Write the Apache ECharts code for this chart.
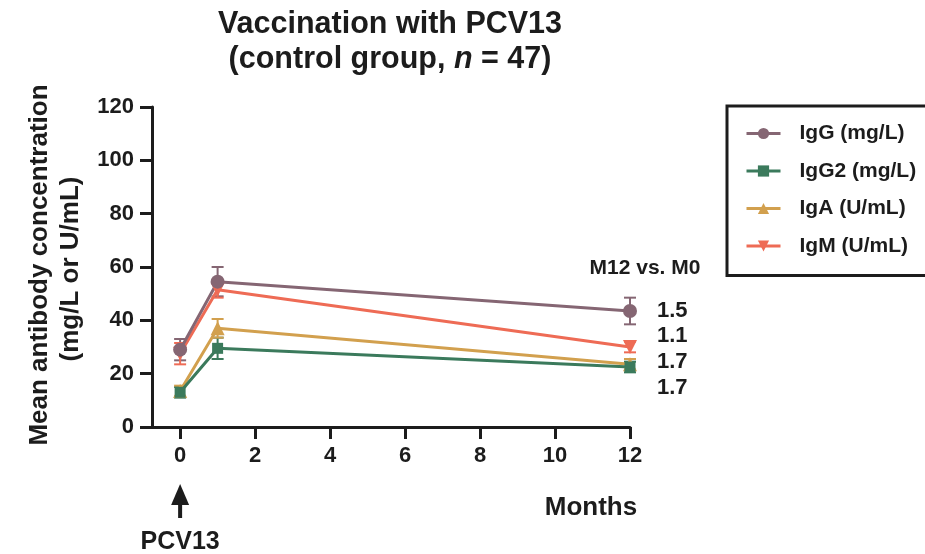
<!DOCTYPE html>
<html>
<head>
<meta charset="utf-8">
<script src="https://cdn.jsdelivr.net/npm/echarts@6/dist/echarts.min.js"></script>
<style>
  html, body { margin: 0; padding: 0; background: #fff; }
  #chart { width: 925px; height: 554px; }
</style>
</head>
<body>
<div id="chart"></div>
<script>
// Sampling time points (months after PCV13 dose)
var months = [0, 1, 12];

// Mean concentrations and error half-widths per antibody class
var seriesNames = ['IgG (mg/L)', 'IgG2 (mg/L)', 'IgA (U/mL)', 'IgM (U/mL)'];
var igG  = [29, 54.5, 43.5];
var igG2 = [13, 29.5, 22.5];
var igA  = [13.5, 37, 23.5];
var igM  = [27.5, 51.5, 30];
var igGErr  = [4, 5.5, 5];
var igG2Err = [2, 4, 2];
var igAErr  = [2, 3.5, 2];
var igMErr  = [4, 3, 2];

// Fold changes M12 vs. M0, listed top to bottom
var ratioLabels = ['1.5', '1.1', '1.7', '1.7'];

var xTicks = [0, 2, 4, 6, 8, 10, 12];

var colors = ['#856673', '#3b7a5c', '#d2a04e', '#ee6b55'];
var symbols = ['circle', 'rect', 'triangle', 'triangle'];
var rotations = [0, 0, 0, 180];
var FONT = '"Liberation Sans", Arial, sans-serif';
var INK = '#1c1c1c';

var allValues = [igG, igG2, igA, igM];
var allErrors = [igGErr, igG2Err, igAErr, igMErr];

var chart = echarts.init(document.getElementById('chart'), null, { renderer: 'canvas' });

function errorBarRenderer(color) {
  return function (params, api) {
    var x = api.value(0);
    var top = api.coord([x, api.value(2)]);
    var bot = api.coord([x, api.value(1)]);
    var cap = 6;
    var st = { stroke: color, lineWidth: 2 };
    return {
      type: 'group',
      children: [
        { type: 'line', shape: { x1: top[0], y1: top[1], x2: bot[0], y2: bot[1] }, style: st },
        { type: 'line', shape: { x1: top[0] - cap, y1: top[1], x2: top[0] + cap, y2: top[1] }, style: st },
        { type: 'line', shape: { x1: bot[0] - cap, y1: bot[1], x2: bot[0] + cap, y2: bot[1] }, style: st }
      ]
    };
  };
}

var series = [];
seriesNames.forEach(function (name, i) {
  var vals = allValues[i], errs = allErrors[i];
  series.push({
    name: name + ' err',
    type: 'custom',
    renderItem: errorBarRenderer(colors[i]),
    encode: { x: 0, y: [1, 2] },
    data: months.map(function (m, k) { return [m, vals[k] - errs[k], vals[k] + errs[k]]; }),
    z: 1,
    silent: true
  });
});
// Draw lines in reverse so IgG sits on top
for (var i = seriesNames.length - 1; i >= 0; i--) {
  series.push({
    name: seriesNames[i],
    type: 'line',
    data: months.map(function (m, k) { return [m, allValues[i][k]]; }),
    symbol: symbols[i],
    symbolRotate: rotations[i],
    symbolSize: i === 1 ? 11 : 14,
    showSymbol: true,
    lineStyle: { color: colors[i], width: 3 },
    itemStyle: { color: colors[i] },
    z: 2,
    animation: false
  });
}

var option = {
  animation: false,
  backgroundColor: '#ffffff',
  grid: { left: 152, right: 295, top: 107, bottom: 127, containLabel: false },
  xAxis: {
    type: 'value',
    min: -0.75,
    max: 12,
    axisLine: { show: true, onZero: false, lineStyle: { color: INK, width: 3 } },
    axisTick: { show: true, length: 12, lineStyle: { color: INK, width: 3 }, customValues: xTicks },
    axisLabel: { show: true, customValues: xTicks, margin: 18, color: INK, fontFamily: FONT, fontWeight: 'bold', fontSize: 22 },
    splitLine: { show: false }
  },
  yAxis: {
    type: 'value',
    min: 0,
    max: 120,
    interval: 20,
    axisLine: { show: true, onZero: false, lineStyle: { color: INK, width: 3 } },
    axisTick: { show: true, length: 12, lineStyle: { color: INK, width: 3 } },
    axisLabel: { margin: 18, color: INK, fontFamily: FONT, fontWeight: 'bold', fontSize: 22 },
    splitLine: { show: false }
  },
  legend: {
    data: seriesNames,
    orient: 'vertical',
    left: 727,
    top: 106,
    padding: [17, 80, 19, 18],
    itemWidth: 34,
    itemHeight: 14,
    itemGap: 16.5,
    borderColor: INK,
    borderWidth: 3,
    borderRadius: 0,
    lineStyle: { width: 3 },
    textStyle: { color: INK, fontFamily: FONT, fontWeight: 'bold', fontSize: 21, padding: [0, 0, 0, 14] },
    selectedMode: false
  },
  series: series
};

chart.setOption(option);

// Annotations placed relative to the axis scales
var x0 = chart.convertToPixel({ xAxisIndex: 0 }, 0);
var x12 = chart.convertToPixel({ xAxisIndex: 0 }, 12);
var plotMid = chart.convertToPixel({ yAxisIndex: 0 }, 60);
var ratioY = [311, 336, 362, 388];

var graphics = [
  {
    type: 'text',
    style: {
      x: 390, y: 7, align: 'center', verticalAlign: 'top',
      text: '{b|Vaccination with PCV13}\n{b|(control group, }{i|n}{b| = 47)}',
      rich: {
        b: { fontFamily: FONT, fontWeight: 'bold', fontSize: 30.5, lineHeight: 35, fill: INK },
        i: { fontFamily: FONT, fontWeight: 'bold', fontStyle: 'italic', fontSize: 30.5, lineHeight: 35, fill: INK }
      }
    }
  },
  {
    type: 'text', x: 40, y: plotMid - 2, rotation: Math.PI / 2,
    style: { text: 'Mean antibody concentration', align: 'center', verticalAlign: 'middle',
      fontFamily: FONT, fontWeight: 'bold', fontSize: 26, fill: INK }
  },
  {
    type: 'text', x: 71, y: plotMid + 2, rotation: Math.PI / 2,
    style: { text: '(mg/L or U/mL)', align: 'center', verticalAlign: 'middle',
      fontFamily: FONT, fontWeight: 'bold', fontSize: 26, fill: INK }
  },
  {
    type: 'text',
    style: { x: 591, y: 508, text: 'Months', align: 'center', verticalAlign: 'middle',
      fontFamily: FONT, fontWeight: 'bold', fontSize: 26, fill: INK }
  },
  {
    type: 'text',
    style: { x: x0, y: 542, text: 'PCV13', align: 'center', verticalAlign: 'middle',
      fontFamily: FONT, fontWeight: 'bold', fontSize: 25, fill: INK }
  },
  {
    type: 'polygon',
    shape: { points: [[x0, 484], [x0 - 9, 505], [x0 + 9, 505]] },
    style: { fill: INK }
  },
  {
    type: 'rect',
    shape: { x: x0 - 2, y: 500, width: 4, height: 18 },
    style: { fill: INK }
  },
  {
    type: 'text',
    style: { x: 645, y: 268, text: 'M12 vs. M0', align: 'center', verticalAlign: 'middle',
      fontFamily: FONT, fontWeight: 'bold', fontSize: 21, fill: INK }
  }
];
ratioLabels.forEach(function (t, k) {
  graphics.push({
    type: 'text',
    style: { x: x12 + 27, y: ratioY[k], text: t, align: 'left', verticalAlign: 'middle',
      fontFamily: FONT, fontWeight: 'bold', fontSize: 22, fill: INK }
  });
});

chart.setOption({ graphic: graphics });
</script>
</body>
</html>
